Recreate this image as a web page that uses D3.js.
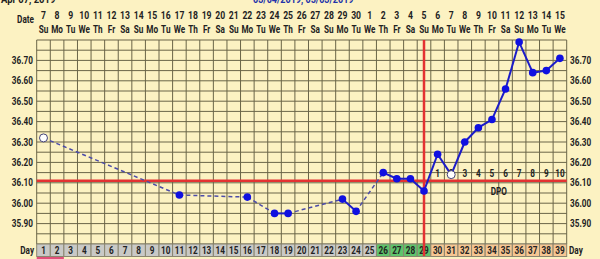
<!DOCTYPE html>
<html><head><meta charset="utf-8">
<script src="https://cdn.jsdelivr.net/npm/d3@7"></script>
<style>
html,body{margin:0;padding:0;background:#fcf2c2;}
svg{display:block;font-family:Roboto,"Liberation Sans",sans-serif;font-weight:bold;}
</style></head><body>
<svg id="c" width="600" height="259"></svg>
<script>
const dayNums = d3.range(1, 40);
const dates = [7,8,9,10,11,12,13,14,15,16,17,18,19,20,21,22,23,24,25,26,27,28,29,30,1,2,3,4,5,6,7,8,9,10,11,12,13,14,15];
const weekdays = ["Su","Mo","Tu","We","Th","Fr","Sa"];
const tempDays = [1,11,16,18,19,23,24,26,27,28,29,30,31,32,33,34,35,36,37,38,39];
const temps = [36.32,36.04,36.03,35.95,35.95,36.02,35.96,36.15,36.12,36.12,36.06,36.24,36.14,36.30,36.37,36.41,36.56,36.79,36.64,36.65,36.71];
const openDays = [1,31];
const yTicks = [35.90,36.00,36.10,36.20,36.30,36.40,36.50,36.60,36.70];
const coverline = 36.11;
const ovulationDay = 29;
const greenDays = [26,27,28,29];
const dpoLabels = [1,2,3,4,5,6,7,8,9,10];
const dpoStart = 30;

const svg = d3.select("#c");
const x = d3.scaleBand().domain(dayNums).range([36.7, 566.7]).padding(0);
const y = d3.scaleLinear().domain([35.8, 36.8]).range([244, 40]);
const cx = d => x(d) + x.bandwidth()/2;
const SX = 0.82;

// condensed text helper
function ctext(sel, fx, fy, size, anchor, fill) {
  return sel.attr("transform", (d,i) => `translate(${fx(d,i)},${fy(d,i)}) scale(${SX},1)`)
    .attr("font-size", size).attr("text-anchor", anchor).attr("fill", fill || "#222");
}

// header (cut off at top edge, as in the reference)
ctext(svg.append("text"), () => 1, () => 3, 11.5, "start").text("Apr 07, 2019");
ctext(svg.append("text"), () => 253, () => 3, 11, "start", "#2233aa").text("03/04/2019, 05/03/2019");

// date header
ctext(svg.append("text"), () => 34, () => 23, 10, "end").text("Date");
ctext(svg.selectAll(".dn").data(dayNums).enter().append("text"), d => cx(d), () => 19, 10.5, "middle")
  .text((d,i) => dates[i]);
ctext(svg.selectAll(".wd").data(dayNums).enter().append("text"), d => cx(d), () => 33, 10, "middle")
  .text((d,i) => weekdays[i % 7]);

// grid
const g = svg.append("g");
const hLines = d3.range(0, 21).map(i => 35.8 + i*0.05);
g.selectAll(".h").data(hLines).enter().append("line")
  .attr("x1", 36.7).attr("x2", 566.7).attr("y1", d => y(d)).attr("y2", d => y(d))
  .attr("stroke", "#6a6548").attr("stroke-width", 1);
g.selectAll(".v").data(d3.range(0, 40)).enter().append("line")
  .attr("x1", i => i < 39 ? x(i+1) : x(39)+x.bandwidth()).attr("x2", i => i < 39 ? x(i+1) : x(39)+x.bandwidth())
  .attr("y1", 40).attr("y2", 244)
  .attr("stroke", "#6a6548").attr("stroke-width", 1);

// y labels
ctext(svg.selectAll(".yl").data(yTicks).enter().append("text"), () => 33, d => y(d) + 3.5, 10, "end")
  .text(d => d.toFixed(2));
ctext(svg.selectAll(".yr").data(yTicks).enter().append("text"), () => 570, d => y(d) + 3.5, 10, "start")
  .text(d => d.toFixed(2));

// day row
const dayRow = svg.append("g");
dayRow.selectAll("rect").data(dayNums).enter().append("rect")
  .attr("x", d => x(d)).attr("y", 244).attr("width", x.bandwidth()).attr("height", 12.5)
  .attr("fill", d => greenDays.includes(d) ? "#5fc46c" : (d >= dpoStart ? "#f6c692" : "#c9c9c6"))
  .attr("stroke", "#8a8670").attr("stroke-width", 1);
ctext(dayRow.selectAll("text").data(dayNums).enter().append("text"), d => cx(d), () => 254, 10, "middle")
  .text(d => d);
ctext(svg.append("text"), () => 34, () => 254, 10, "end").text("Day");
ctext(svg.append("text"), () => 569, () => 254, 10, "start").text("Day");
svg.append("rect").attr("x", x(1)).attr("y", 257).attr("width", x.bandwidth()*2).attr("height", 2).attr("fill", "#e0507a");

// red lines
svg.append("line").attr("x1", 36.7).attr("x2", 566.7).attr("y1", y(coverline)).attr("y2", y(coverline))
  .attr("stroke", "#e43232").attr("stroke-width", 2.5);
svg.append("line").attr("x1", cx(ovulationDay)).attr("x2", cx(ovulationDay)).attr("y1", 40).attr("y2", 256)
  .attr("stroke", "#e43232").attr("stroke-width", 2.5);

// DPO labels
ctext(svg.selectAll(".dpo").data(dpoLabels).enter().append("text"), (d,i) => cx(dpoStart + i), () => 176.5, 10, "middle")
  .text(d => d);
ctext(svg.append("text"), () => cx(34) + x.bandwidth()/2, () => 194.5, 10, "middle").text("DPO");

// temperature line segments
const pts = tempDays.map((d,i) => ({day: d, t: temps[i]}));
const segs = d3.pairs(pts);
svg.selectAll(".seg").data(segs).enter().append("line")
  .attr("x1", s => cx(s[0].day)).attr("y1", s => y(s[0].t))
  .attr("x2", s => cx(s[1].day)).attr("y2", s => y(s[1].t))
  .attr("stroke", s => s[1].day - s[0].day === 1 ? "#1c1cc8" : "#4b4ba8")
  .attr("stroke-width", s => s[1].day - s[0].day === 1 ? 2 : 1.5)
  .attr("stroke-dasharray", s => s[1].day - s[0].day === 1 ? null : "4,3");

svg.selectAll(".pt").data(pts).enter().append("circle")
  .attr("cx", d => cx(d.day)).attr("cy", d => y(d.t))
  .attr("r", d => openDays.includes(d.day) ? 4 : 3.8)
  .attr("fill", d => openDays.includes(d.day) ? "#ffffff" : "#1010e0")
  .attr("stroke", d => openDays.includes(d.day) ? "#44447a" : "none")
  .attr("stroke-width", 1);
</script>
</body></html>
